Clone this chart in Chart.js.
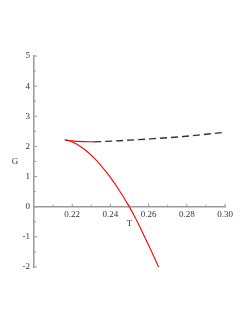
<!DOCTYPE html>
<html>
<head>
<meta charset="utf-8">
<script src="https://cdn.jsdelivr.net/npm/chart.js@4/dist/chart.umd.min.js"></script>
<style>
html,body{margin:0;padding:0;background:#fff;}
#wrap{width:249px;height:323px;}
</style>
</head>
<body>
<div id="wrap"><canvas id="c" width="249" height="323"></canvas></div>
<script>
// Lower red branch
const lowerT = [0.2161, 0.2190, 0.2222, 0.2265, 0.2309, 0.2353, 0.2397, 0.2447, 0.2497, 0.2533, 0.2569, 0.2610, 0.2652];
const lowerG = [2.22, 2.18, 2.08, 1.90, 1.65, 1.35, 1.00, 0.54, 0.02, -0.40, -0.86, -1.41, -2.00];
// Upper red branch (from cusp)
const upperT = [0.2161, 0.2200, 0.2260, 0.2315];
const upperG = [2.22, 2.185, 2.16, 2.15];
// Dashed black branch
const dashT = [0.2315, 0.2450, 0.2608, 0.2783, 0.3000];
const dashG = [2.15, 2.19, 2.25, 2.33, 2.47];
// Tick labels
const xTicks = ['0.22', '0.24', '0.26', '0.28', '0.30'];
const yTicks = ['-2', '-1', '0', '1', '2', '3', '4', '5'];
const xTitle = 'T';
const yTitle = 'G';

const pts = (xs, ys) => xs.map((x, i) => ({x: x, y: ys[i]}));
const FONT = {family: '"Liberation Serif", "DejaVu Serif", serif', size: 9};

const decor = {
  id: 'decor',
  afterDraw(chart) {
    const ctx = chart.ctx;
    const xs = chart.scales.x, ys = chart.scales.y;
    const y0 = ys.getPixelForValue(0);
    const ca = chart.chartArea;
    const xl = ca.left;
    ctx.save();
    ctx.strokeStyle = '#999';
    ctx.lineWidth = 1;
    for (let i = 1; i <= 10; i++) {
      const v = 0.2 + i * 0.01;
      const px = xs.getPixelForValue(v);
      const len = (i % 2 === 0) ? 3 : 2;
      ctx.beginPath(); ctx.moveTo(px, y0); ctx.lineTo(px, y0 - len); ctx.stroke();
    }
    for (let i = 0; i <= 14; i++) {
      const v = -2 + i * 0.5;
      const py = ys.getPixelForValue(v);
      const len = (i % 2 === 0) ? 3 : 2;
      ctx.beginPath(); ctx.moveTo(xl, py); ctx.lineTo(xl + len, py); ctx.stroke();
    }
    ctx.fillStyle = '#333';
    ctx.font = '9px "Liberation Serif", serif';
    ctx.textAlign = 'center';
    ctx.textBaseline = 'middle';
    ctx.fillText(yTitle, 15, (ca.top + ca.bottom) / 2);
    ctx.fillText(xTitle, (ca.left + ca.right) / 2, y0 + 17);
    ctx.restore();
  }
};

new Chart(document.getElementById('c'), {
  type: 'scatter',
  data: {
    datasets: [
      {data: pts(lowerT, lowerG), showLine: true, borderColor: '#ff0000', borderWidth: 1.1, pointRadius: 0, cubicInterpolationMode: 'monotone', fill: false},
      {data: pts(upperT, upperG), showLine: true, borderColor: '#ff0000', borderWidth: 1.1, pointRadius: 0, cubicInterpolationMode: 'monotone', fill: false},
      {data: pts(dashT, dashG), showLine: true, borderColor: '#333333', borderWidth: 1.4, borderDash: [7, 4], pointRadius: 0, cubicInterpolationMode: 'monotone', fill: false}
    ]
  },
  options: {
    responsive: false,
    animation: false,
    devicePixelRatio: 1,
    layout: {padding: {left: 0, right: 24, top: 56, bottom: 56}},
    plugins: {legend: {display: false}, tooltip: {enabled: false}},
    scales: {
      x: {
        type: 'linear', min: 0.2, max: 0.3,
        position: {y: 0},
        border: {display: true, color: '#999', width: 1.5},
        grid: {display: false, drawTicks: false},
        ticks: {
          stepSize: 0.02, padding: 3, color: '#333', font: FONT, maxRotation: 0,
          callback: (v) => { const s = v.toFixed(2); return xTicks.includes(s) ? s : ''; }
        },
        title: {display: false}
      },
      y: {
        type: 'linear', min: -2, max: 5,
        position: 'left',
        border: {display: true, color: '#999', width: 1.5},
        grid: {display: false, drawTicks: false},
        ticks: {
          stepSize: 1, padding: 4, color: '#333', font: FONT,
          callback: (v) => { const s = String(Math.round(v)); return yTicks.includes(s) ? s : ''; }
        },
        afterFit: (s) => { s.width = 34; }
      }
    }
  },
  plugins: [decor]
});
</script>
</body>
</html>
